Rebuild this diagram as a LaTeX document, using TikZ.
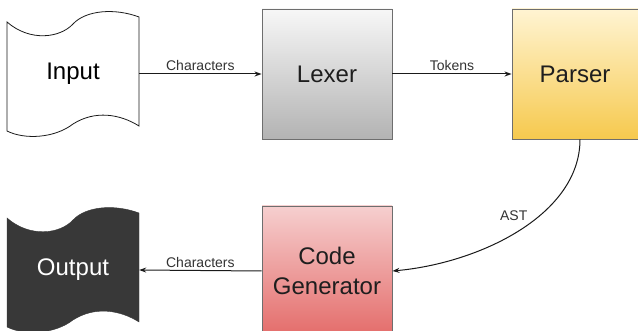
\documentclass[tikz,border=0pt]{standalone}
\usepackage{fontspec}
\setmainfont{Liberation Sans}
\usetikzlibrary{arrows.meta}
\definecolor{lexTop}{HTML}{F7F7F7}
\definecolor{lexBot}{HTML}{B3B3B3}
\definecolor{parTop}{HTML}{FFF4D2}
\definecolor{parBot}{HTML}{F6C94E}
\definecolor{cgTop}{HTML}{F6CFCF}
\definecolor{cgBot}{HTML}{E46C6A}
\definecolor{boxline}{HTML}{6E6E6E}
\definecolor{textdark}{HTML}{1E1E1E}
\definecolor{linecol}{HTML}{1A1A1A}
\definecolor{labelcol}{HTML}{333333}
\definecolor{outfill}{HTML}{383838}
\begin{document}
\begin{tikzpicture}[x=1pt,y=-1pt,
  box/.style={draw=boxline, line width=0.9pt, minimum width=130pt, minimum height=130pt, inner sep=0pt,
    font=\fontsize{24}{30}\selectfont, text=textdark, align=center},
  tapetext/.style={minimum width=132pt, minimum height=100pt, inner sep=0pt, font=\fontsize{24}{30}\selectfont},
  tapeline/.style={draw=linecol, line width=0.8pt},
  conn/.style={line width=1pt, draw=linecol, -{Stealth[length=7pt,width=5pt]}},
  lbl/.style={font=\fontsize{14}{16}\selectfont, text=labelcol, inner sep=1.5pt}
]
\useasboundingbox (0,0) rectangle (638,331);

% Input tape
\draw[tapeline, fill=white] (7,22) .. controls (30,42) and (60,38) .. (73,24)
  .. controls (86,10) and (115,8) .. (139,17) -- (139,126)
  .. controls (120,114) and (95,110) .. (73,124)
  .. controls (55,138) and (25,140) .. (7,131) -- cycle;
% Output tape
\begin{scope}[shift={(0,196)}]
\draw[draw=outfill, fill=outfill] (7,22) .. controls (30,42) and (60,38) .. (73,24)
  .. controls (86,10) and (115,8) .. (139,17) -- (139,126)
  .. controls (120,114) and (95,110) .. (73,124)
  .. controls (55,138) and (25,140) .. (7,131) -- cycle;
\end{scope}

\node[tapetext] (inp) at (73,74) {Input};
\node[tapetext, text=white] (out) at (73,270) {Output};

\node[box, top color=lexTop, bottom color=lexBot] (lex) at (327,74) {Lexer};
\node[box, top color=parTop, bottom color=parBot, minimum width=126pt] (par) at (575,74) {Parser};
\node[box, top color=cgTop, bottom color=cgBot, text=textdark] (cg) at (327,271) {Code\\Generator};

\draw[conn] (inp.east) -- (lex.west) node[lbl, midway, above=1pt] {Characters};
\draw[conn] (lex.east) -- (par.west) node[lbl, midway, above=1pt] {Tokens};
\draw[conn] (cg.west) -- (out.east) node[lbl, midway, above=1pt] {Characters};
\draw[conn] ([xshift=5pt]par.south) .. controls +(0,75) and +(88,-8) .. (cg.east)
  node[lbl, pos=0.4, left=10pt] {AST};
\end{tikzpicture}
\end{document}
